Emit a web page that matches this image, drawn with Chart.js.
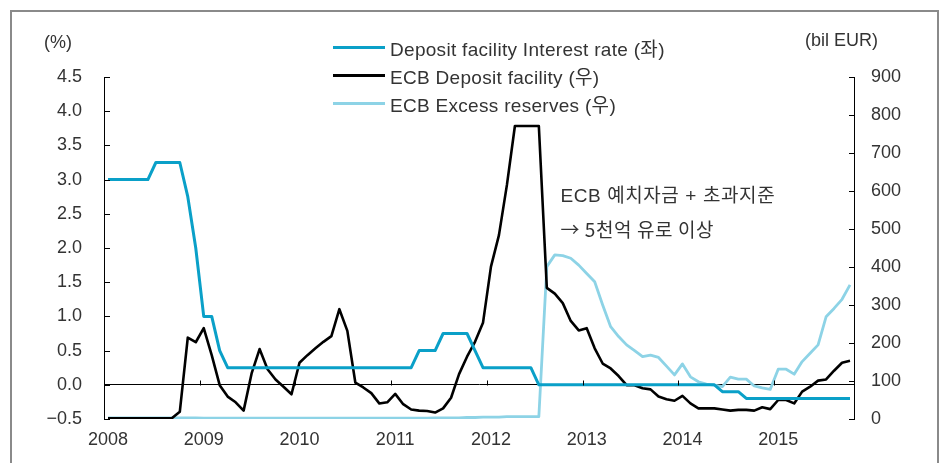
<!DOCTYPE html>
<html lang="ko">
<head>
<meta charset="UTF-8">
<title>ECB Deposit facility / Excess reserves</title>
<script src="https://cdn.jsdelivr.net/npm/chart.js@4"></script>
<style>
  body { margin: 0; background: #fff; font-family: 'Liberation Sans', Arial, 'Noto Sans CJK KR', sans-serif; color: #333; }
  .wrap { position: relative; width: 941px; height: 463px; overflow: hidden; }
  .frame { position: absolute; left: 10px; top: 10px; width: 925px; height: 470px; border: 2px solid #8a8a8a; }
  canvas { position: absolute; left: 0; top: 0; }
  .unit { position: absolute; font-size: 18px; line-height: 20px; white-space: nowrap; }
  .legend { position: absolute; left: 333px; top: 33px; }
  .legend .item { display: flex; align-items: center; height: 28px; font-size: 19px; letter-spacing: 0.3px; white-space: nowrap; }
  .legend .swatch { width: 52px; height: 0; border-top: 3px solid; margin-right: 5px; }
</style>
</head>
<body>
<div class="wrap">
  <div class="frame"></div>
  <canvas id="chart" width="941" height="463"></canvas>
  <div class="unit" style="left:44px; top:32px;">(%)</div>
  <div class="unit" style="left:805px; top:30px;">(bil EUR)</div>
  <div class="legend" id="legend"></div>
</div>
<script>
// x축: 2008.01 ~ 2015.10 월별
const years = ['2008', '2009', '2010', '2011', '2012', '2013', '2014', '2015'];
const months = [];
years.forEach(y => {
  for (let m = 1; m <= 12; m++) months.push(y + '-' + String(m).padStart(2, '0'));
});
months.splice(94);

// Deposit facility Interest rate (좌, %)
const depositRate = [
  3.0, 3.0, 3.0, 3.0, 3.0, 3.0, 3.25, 3.25, 3.25, 3.25, 2.75, 2.0,
  1.0, 1.0, 0.5, 0.25, 0.25, 0.25, 0.25, 0.25, 0.25, 0.25, 0.25, 0.25,
  0.25, 0.25, 0.25, 0.25, 0.25, 0.25, 0.25, 0.25, 0.25, 0.25, 0.25, 0.25,
  0.25, 0.25, 0.25, 0.5, 0.5, 0.5, 0.75, 0.75, 0.75, 0.75, 0.5, 0.25,
  0.25, 0.25, 0.25, 0.25, 0.25, 0.25, 0, 0, 0, 0, 0, 0,
  0, 0, 0, 0, 0, 0, 0, 0, 0, 0, 0, 0,
  0, 0, 0, 0, 0, -0.1, -0.1, -0.1, -0.2, -0.2, -0.2, -0.2,
  -0.2, -0.2, -0.2, -0.2, -0.2, -0.2, -0.2, -0.2, -0.2, -0.2
];

// ECB Deposit facility (우, bil EUR)
const depositFacility = [
  2, 2, 2, 2, 2, 2, 2, 2, 2, 19, 214, 202,
  239, 168, 89, 59, 44, 22, 120, 184, 131, 104, 85, 65,
  148, 168, 186, 203, 218, 289, 232, 96, 83, 68, 41, 44,
  66, 39, 25, 22, 21, 17, 28, 56, 118, 164, 203, 253,
  401, 484, 616, 771, 771, 771, 771, 345, 330, 305, 258, 233,
  239, 186, 146, 133, 113, 89, 89, 81, 78, 59, 52, 48,
  61, 41, 28, 28, 28, 25, 22, 24, 24, 22, 31, 26,
  50, 50, 41, 72, 85, 101, 104, 127, 148, 153
];

// ECB Excess reserves (우, bil EUR)
const excessReserves = [
  3, 3, 3, 3, 3, 3, 3, 3, 3, 3, 3, 3,
  2, 2, 2, 2, 2, 2, 2, 2, 2, 2, 2, 2,
  2, 2, 2, 2, 2, 2, 2, 2, 2, 2, 2, 2,
  2, 2, 2, 2, 2, 3, 3, 3, 3, 4, 4, 5,
  5, 5, 6, 6, 6, 6, 6, 401, 432, 430, 423, 405,
  383, 361, 300, 243, 217, 195, 180, 164, 168, 162, 139, 116,
  145, 111, 98, 92, 89, 85, 110, 105, 105, 87, 82, 78,
  131, 131, 118, 151, 173, 195, 269, 291, 315, 353
];

const rateTicks = { min: -0.5, max: 4.5, step: 0.5 };
const amountTicks = { min: 0, max: 900, step: 100 };

const FONT = "'Liberation Sans', Arial, 'Noto Sans CJK KR', sans-serif";
const TEXT = '#333';

// 축 안쪽 눈금, 0선 위 연도 눈금, 주석
const decor = {
  id: 'decor',
  afterDatasetsDraw(chart) {
    const { ctx, scales } = chart;
    const x = scales.x, y = scales.y, y1 = scales.y1;
    ctx.save();
    ctx.strokeStyle = '#000';
    ctx.lineWidth = 1;
    ctx.beginPath();
    y.ticks.forEach(t => {
      const py = Math.round(y.getPixelForValue(t.value)) + 0.5;
      ctx.moveTo(y.right, py);
      ctx.lineTo(y.right + 6, py);
    });
    y1.ticks.forEach(t => {
      const py = Math.round(y1.getPixelForValue(t.value)) + 0.5;
      ctx.moveTo(y1.left, py);
      ctx.lineTo(y1.left - 5, py);
    });
    const zero = Math.round(y.getPixelForValue(0)) + 0.5;
    for (let i = 12; i < months.length; i += 12) {
      const px = Math.round(x.getPixelForValue(i - 0.5)) + 0.5;
      ctx.moveTo(px, zero);
      ctx.lineTo(px, zero - 5);
    }
    ctx.stroke();

    ctx.fillStyle = TEXT;
    ctx.textBaseline = 'middle';
    ctx.textAlign = 'left';
    ctx.letterSpacing = '0.6px';
    const ax = x.getPixelForValue(56.7);
    ctx.font = '19px ' + FONT;
    ctx.fillText('ECB 예치자금 + 초과지준', ax, y.getPixelForValue(2.75));
    ctx.font = "19px 'Noto Sans CJK KR', sans-serif";
    ctx.fillText('→ 5천억 유로 이상', ax, y.getPixelForValue(2.27));
    ctx.restore();
  }
};

const chart = new Chart(document.getElementById('chart'), {
  type: 'line',
  data: {
    labels: months,
    datasets: [
      {
        label: 'Deposit facility Interest rate (좌)',
        data: depositRate,
        yAxisID: 'y',
        borderColor: '#0aa0c8',
        borderWidth: 3
      },
      {
        label: 'ECB Deposit facility (우)',
        data: depositFacility,
        yAxisID: 'y1',
        borderColor: '#000000',
        borderWidth: 2.6
      },
      {
        label: 'ECB Excess reserves (우)',
        data: excessReserves,
        yAxisID: 'y1',
        borderColor: '#8dd3e6',
        borderWidth: 2.8
      }
    ]
  },
  options: {
    responsive: false,
    animation: false,
    devicePixelRatio: 1,
    layout: { padding: { top: 77, left: 0, right: 0, bottom: 0 } },
    elements: {
      point: { radius: 0, hoverRadius: 0 },
      line: { tension: 0, fill: false, borderJoinStyle: 'round' }
    },
    plugins: {
      legend: { display: false },
      tooltip: { enabled: false }
    },
    scales: {
      x: {
        type: 'category',
        offset: true,
        grid: { display: false, drawTicks: false },
        border: { display: false },
        ticks: {
          autoSkip: false,
          maxRotation: 0,
          padding: 10,
          color: TEXT,
          font: { family: FONT, size: 18 },
          callback: (v, i) => (i % 12 === 0 ? years[i / 12] : '')
        },
        afterFit: s => { s.height = 44; }
      },
      y: {
        position: 'left',
        min: rateTicks.min,
        max: rateTicks.max,
        grid: {
          drawTicks: false,
          lineWidth: 1,
          color: c => (c.tick && Math.abs(c.tick.value) < 1e-9 ? '#000' : 'rgba(0,0,0,0)')
        },
        border: { display: true, color: '#000', width: 1 },
        ticks: {
          stepSize: rateTicks.step,
          padding: 22,
          color: TEXT,
          font: { family: FONT, size: 18 },
          callback: v => v.toFixed(1).replace('-', '\u2212')
        },
        afterFit: s => { s.width = 104; }
      },
      y1: {
        position: 'right',
        min: amountTicks.min,
        max: amountTicks.max,
        grid: { drawOnChartArea: false, drawTicks: false },
        border: { display: true, color: '#000', width: 1 },
        ticks: {
          stepSize: amountTicks.step,
          padding: 17,
          color: TEXT,
          font: { family: FONT, size: 18 }
        },
        afterFit: s => { s.width = 87; }
      }
    }
  },
  plugins: [decor]
});

// 범례
const legendEl = document.getElementById('legend');
chart.data.datasets.forEach(ds => {
  const item = document.createElement('div');
  item.className = 'item';
  const sw = document.createElement('span');
  sw.className = 'swatch';
  sw.style.borderTopColor = ds.borderColor;
  const label = document.createElement('span');
  label.textContent = ds.label;
  item.appendChild(sw);
  item.appendChild(label);
  legendEl.appendChild(item);
});
</script>
</body>
</html>
